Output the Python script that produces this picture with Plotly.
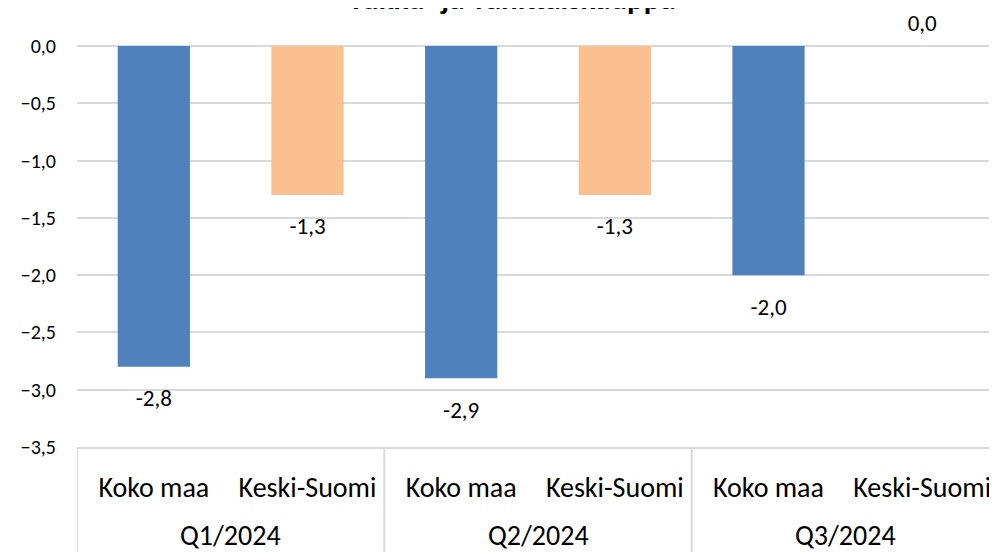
import plotly.graph_objects as go

# Data
quarters = ["Q1/2024", "Q1/2024", "Q2/2024", "Q2/2024", "Q3/2024", "Q3/2024"]
regions = ["Koko maa", "Keski-Suomi", "Koko maa", "Keski-Suomi", "Koko maa", "Keski-Suomi"]
values = [-2.8, -1.3, -2.9, -1.3, -2.0, 0.0]
region_colors = {"Koko maa": "#4F81BD", "Keski-Suomi": "#FAC090"}

FONT = "Carlito, Calibri, Lato, sans-serif"
GRID = "#D9D9D9"

pos = list(range(len(values)))
labels = [f"{v:.1f}".replace(".", ",") for v in values]
label_pos = ["top center" if v >= 0 else "bottom center" for v in values]

# quarter groups: (label, first index, last index)
groups = []
for i, q in enumerate(quarters):
    if groups and groups[-1][0] == q:
        groups[-1][2] = i
    else:
        groups.append([q, i, i])

fig = go.Figure()
fig.add_trace(go.Bar(
    x=pos,
    y=values,
    marker=dict(color=[region_colors[r] for r in regions], line=dict(width=0)),
    width=0.47,
    hoverinfo="skip",
))
# data labels, offset from bar ends with an invisible marker
fig.add_trace(go.Scatter(
    x=pos,
    y=values,
    mode="markers+text",
    text=labels,
    textposition=label_pos,
    textfont=dict(family=FONT, size=23, color="#000000"),
    marker=dict(size=[14 if v >= 0 else 34 for v in values],
                color="rgba(0,0,0,0)",
                line=dict(width=0, color="rgba(0,0,0,0)")),
    cliponaxis=False,
    hoverinfo="skip",
))

# quarter labels and dividers under the category labels
for q, a, b in groups:
    fig.add_annotation(
        x=(a + b) / 2, y=-0.2195, xref="x", yref="paper",
        text=q, showarrow=False, yanchor="middle",
        font=dict(family=FONT, size=28, color="#000000"),
    )
    fig.add_shape(type="line", xref="x", yref="paper",
                  x0=a - 0.5, x1=a - 0.5, y0=0, y1=-0.3,
                  line=dict(color=GRID, width=2))
fig.add_shape(type="line", xref="x", yref="paper",
              x0=groups[-1][2] + 0.5, x1=groups[-1][2] + 0.5, y0=0, y1=-0.3,
              line=dict(color=GRID, width=2))

fig.update_layout(
    width=997,
    height=552,
    margin=dict(l=69, r=6, t=38, b=113),
    paper_bgcolor="white",
    plot_bgcolor="white",
    showlegend=False,
    separators=", ",
    font=dict(family=FONT, color="#000000"),
    title=dict(
        text="<b>Tukku- ja vähittäiskauppa</b>",
        x=0.5055, xanchor="center",
        y=0.998, yanchor="bottom",
        font=dict(family=FONT, size=31, color="#000000"),
    ),
)
fig.update_yaxes(
    range=[-3.5, 0],
    dtick=0.5,
    tickformat=".1f",
    showgrid=True,
    gridcolor=GRID,
    gridwidth=2,
    zeroline=True,
    zerolinecolor=GRID,
    zerolinewidth=2,
    ticks="",
    ticklabelstandoff=20,
    tickfont=dict(family=FONT, size=20),
)
fig.update_xaxes(
    range=[-0.5, len(values) - 0.5],
    tickvals=pos,
    ticktext=regions,
    showgrid=False,
    zeroline=False,
    showline=True,
    linecolor=GRID,
    linewidth=2,
    ticks="",
    ticklabelstandoff=14,
    tickfont=dict(family=FONT, size=28),
)

fig.write_html("out.html")
